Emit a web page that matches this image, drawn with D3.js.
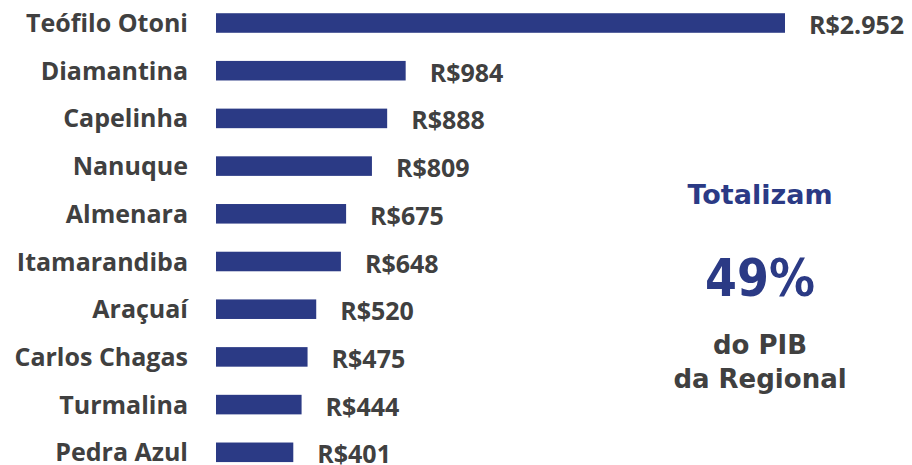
<!DOCTYPE html>
<html>
<head>
<meta charset="utf-8">
<script src="https://cdn.jsdelivr.net/npm/d3@7"></script>
<style>
  body { margin: 0; background: #fff; }
  svg { display: block; }
</style>
</head>
<body>
<div id="chart"></div>
<script>
// dados
var cities = ["Teófilo Otoni", "Diamantina", "Capelinha", "Nanuque", "Almenara",
              "Itamarandiba", "Araçuaí", "Carlos Chagas", "Turmalina", "Pedra Azul"];
var pib = [2952, 984, 888, 809, 675, 648, 520, 475, 444, 401];
var totalLines = ["Totalizam", "49%", "do PIB", "da Regional"];

var svgWidth = 912, svgHeight = 465;
var barColor = "#2b3a85", textColor = "#404040";

var ptBR = d3.formatLocale({decimal: ",", thousands: ".", grouping: [3], currency: ["R$", ""]});
var fmt = ptBR.format(",.0f");

var svg = d3.select("#chart").append("svg")
  .attr("width", svgWidth)
  .attr("height", svgHeight);

var xScale = d3.scaleLinear().domain([0, 2952]).range([216, 785]);
var yScale = d3.scaleBand().domain(cities).range([-0.85, 476.15]).paddingInner(0.59).paddingOuter(0.295);

var rows = svg.selectAll("g.row")
  .data(cities)
  .enter().append("g")
  .attr("class", "row")
  .attr("transform", function(d) { return "translate(0," + yScale(d) + ")"; });

rows.append("rect")
  .attr("x", xScale(0))
  .attr("height", yScale.bandwidth())
  .attr("width", function(d, i) { return xScale(pib[i]) - xScale(0); })
  .style("fill", barColor);

// nomes das cidades
rows.append("text")
  .attr("x", 188)
  .attr("y", yScale.bandwidth() / 2)
  .attr("dy", "0.36em")
  .attr("text-anchor", "end")
  .style("font-family", "'Open Sans', sans-serif")
  .style("font-weight", "bold")
  .style("font-size", "25px")
  .style("fill", textColor)
  .text(function(d) { return d; });

// valores
rows.append("text")
  .attr("x", function(d, i) { return xScale(pib[i]) + 24; })
  .attr("y", yScale.bandwidth() / 2 + 2)
  .attr("dy", "0.36em")
  .style("font-family", "'Open Sans', sans-serif")
  .style("font-weight", "bold")
  .style("font-size", "25px")
  .style("fill", textColor)
  .text(function(d, i) { return "R$" + fmt(pib[i]); });

// bloco "Totalizam 49%"
var cx = 760;
svg.append("text").attr("x", cx).attr("y", 204).attr("text-anchor", "middle")
  .style("font-family", "'DejaVu Sans', sans-serif").style("font-weight", "bold")
  .style("font-size", "27px").style("fill", barColor).text(totalLines[0]);
svg.append("text").attr("x", cx).attr("y", 296).attr("text-anchor", "middle")
  .style("font-family", "'DejaVu Sans Condensed', 'DejaVu Sans', sans-serif").style("font-weight", "bold")
  .style("font-stretch", "condensed")
  .style("font-size", "51px").style("fill", barColor).text(totalLines[1]);
svg.append("text").attr("x", cx).attr("y", 354).attr("text-anchor", "middle")
  .style("font-family", "'DejaVu Sans', sans-serif").style("font-weight", "bold")
  .style("font-size", "26px").style("fill", textColor).text(totalLines[2]);
svg.append("text").attr("x", cx).attr("y", 388).attr("text-anchor", "middle")
  .style("font-family", "'DejaVu Sans', sans-serif").style("font-weight", "bold")
  .style("font-size", "26px").style("fill", textColor).text(totalLines[3]);
</script>
</body>
</html>
